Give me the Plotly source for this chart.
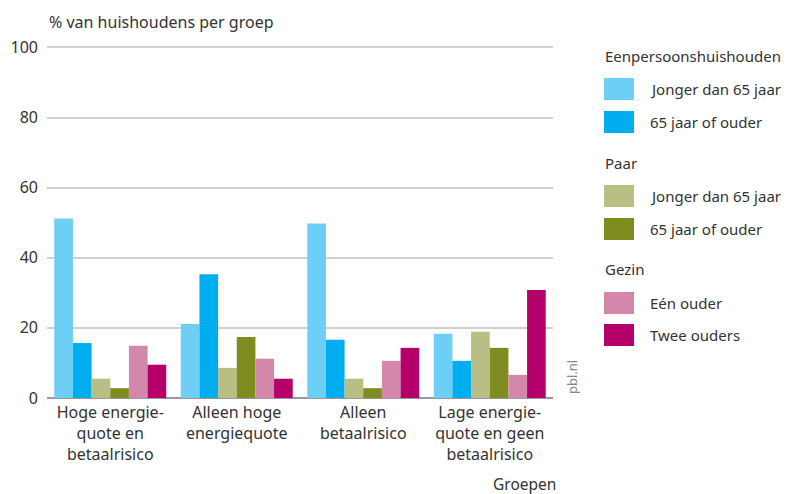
import plotly.graph_objects as go

categories = ["Hoge energie-<br>quote en<br>betaalrisico", "Alleen hoge<br>energiequote",
              "Alleen<br>betaalrisico", "Lage energie-<br>quote en geen<br>betaalrisico"]

een_jong = [51.2, 21.1, 49.8, 18.3]
een_oud = [15.7, 35.3, 16.6, 10.6]
paar_jong = [5.5, 8.6, 5.5, 18.9]
paar_oud = [2.8, 17.4, 2.8, 14.3]
gezin_een = [14.9, 11.2, 10.6, 6.6]
gezin_twee = [9.5, 5.5, 14.3, 30.8]

group_titles = ["Eenpersoonshuishouden", "Paar", "Gezin"]
series = [
    (0, "Jonger dan 65 jaar", een_jong, "#6dcff6"),
    (0, "65 jaar of ouder", een_oud, "#00aeef"),
    (1, "Jonger dan 65 jaar", paar_jong, "#b8be84"),
    (1, "65 jaar of ouder", paar_oud, "#7f8c1f"),
    (2, "Eén ouder", gezin_een, "#d388ab"),
    (2, "Twee ouders", gezin_twee, "#b5006b"),
]

FONT = "Noto Sans"
TXT = "#333"
W, H = 787, 486          # page has an 8px body margin
L, R, T, B = 39, 242, 38, 96
PW, PH = W - L - R, H - T - B


def px(x):  # figure pixel -> paper x
    return (x - L) / PW


def py(y):  # figure pixel -> paper y
    return (H - B - y) / PH


fig = go.Figure()
for gi, name, vals, col in series:
    fig.add_trace(go.Bar(
        x=categories, y=vals, name=name,
        marker=dict(color=col, line=dict(width=0)),
    ))

annotations = [
    dict(text="% van huishoudens per groep", xref="paper", yref="paper",
         x=0, y=1.0, yshift=24, xanchor="left", yanchor="middle",
         showarrow=False, font=dict(size=16, color=TXT)),
    dict(text="Groepen", xref="paper", yref="paper", x=px(550), y=py(476),
         xanchor="right", yanchor="middle", showarrow=False,
         font=dict(size=15.5, color=TXT)),
    dict(text="pbl.nl", xref="paper", yref="paper", x=px(564), y=py(388),
         xanchor="center", yanchor="bottom",
         textangle=-90, showarrow=False, font=dict(size=13, color="#888")),
]
shapes = []

# manual legend (figure pixel layout)
title_y = [48, 155, 261]
item_y = [[81, 114], [188, 221], [295, 327]]
counter = {0: 0, 1: 0, 2: 0}
for gi, t in enumerate(group_titles):
    annotations.append(dict(text=t, xref="paper", yref="paper", x=px(595), y=py(title_y[gi]),
                            xanchor="left", yanchor="middle", showarrow=False,
                            font=dict(size=15, color=TXT)))
for gi, name, vals, col in series:
    cy = item_y[gi][counter[gi]]
    counter[gi] += 1
    shapes.append(dict(type="rect", xref="paper", yref="paper",
                       x0=px(596), x1=px(626), y0=py(cy - 11), y1=py(cy + 11),
                       fillcolor=col, line=dict(width=0)))
    annotations.append(dict(text=name, xref="paper", yref="paper", x=px(640), y=py(cy),
                            xanchor="left", yanchor="middle", showarrow=False,
                            font=dict(size=15, color=TXT)))

fig.update_layout(
    width=W, height=H,
    margin=dict(l=L, r=R, t=T, b=B, autoexpand=False),
    plot_bgcolor="white", paper_bgcolor="white",
    barmode="group", bargap=0.115, bargroupgap=0,
    font=dict(family=FONT, size=16, color=TXT),
    showlegend=False,
    xaxis=dict(showgrid=False, ticks="", showline=False, automargin=False,
               tickfont=dict(size=16, color=TXT), ticklabelstandoff=3),
    yaxis=dict(range=[0, 100.4], tickvals=[0, 20, 40, 60, 80, 100],
               showgrid=True, gridcolor="#d0d0d0", gridwidth=1.5,
               zeroline=True, zerolinecolor="#999", zerolinewidth=2,
               ticks="", showline=False, automargin=False,
               tickfont=dict(size=16, color=TXT), ticklabelstandoff=8),
    annotations=annotations,
    shapes=shapes,
)

fig.write_html("out.html")
